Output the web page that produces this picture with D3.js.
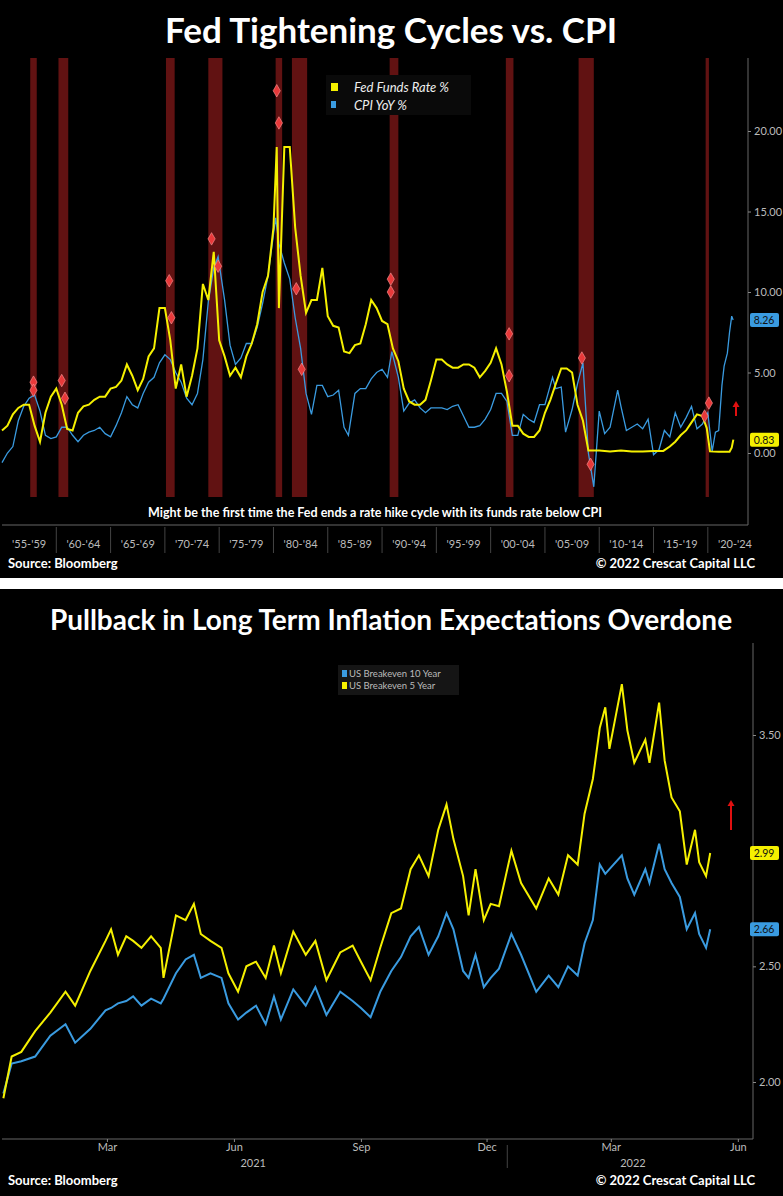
<!DOCTYPE html>
<html><head><meta charset="utf-8">
<script src="https://cdn.jsdelivr.net/npm/d3@7"></script>
<style>body{margin:0;background:#fff}svg{display:block}text{font-family:Lato,"Open Sans",sans-serif}</style>
</head><body><svg id="c" width="783" height="1196"></svg>
<script>
// ---------- Top chart data ----------
const fedYears=[1955,1955.5,1956,1956.5,1957,1957.5,1958,1958.5,1959,1959.5,1960,1960.5,1961,1961.5,1962,1962.5,1963,1963.5,1964,1964.5,1965,1965.5,1966,1966.5,1967,1967.5,1968,1968.5,1969,1969.5,1970,1970.5,1971,1971.5,1972,1972.5,1973,1973.5,1974,1974.5,1975,1975.5,1976,1976.5,1977,1977.5,1978,1978.5,1979,1979.5,1980,1980.3,1980.5,1981,1981.5,1982,1982.5,1983,1983.5,1984,1984.5,1985,1985.5,1986,1986.5,1987,1987.5,1988,1988.5,1989,1989.5,1990,1990.5,1991,1991.5,1992,1992.5,1993,1993.5,1994,1994.5,1995,1995.5,1996,1996.5,1997,1997.5,1998,1998.5,1999,1999.5,2000,2000.5,2001,2001.5,2002,2002.5,2003,2003.5,2004,2004.5,2005,2005.5,2006,2006.5,2007,2007.5,2008,2008.5,2009,2010,2011,2012,2013,2014,2015,2015.9,2016.5,2017,2017.5,2018,2018.5,2019,2019.5,2019.9,2020.2,2021,2022,2022.2,2022.35];
const fedRate=[1.4,1.7,2.4,2.8,3.0,3.0,1.7,0.7,2.5,3.5,4.0,3.0,1.5,1.4,2.5,2.9,3.0,3.3,3.5,3.5,4.0,4.1,4.5,5.5,4.8,3.9,4.6,6.0,6.5,9.0,9.0,7.0,4.0,5.5,3.5,4.8,6.5,10.5,9.5,12.5,7.0,6.0,4.8,5.3,4.7,6.0,6.8,8.0,10.0,11.0,14.0,19.0,9.0,19.0,19.0,14.0,11.0,8.7,9.5,9.5,11.5,8.5,7.9,7.8,6.3,6.2,6.7,6.8,8.0,9.5,9.0,8.2,8.0,6.5,5.7,4.0,3.2,3.0,3.0,3.3,4.5,5.8,5.8,5.5,5.3,5.3,5.5,5.5,5.3,4.7,5.1,5.6,6.5,5.5,3.8,1.7,1.7,1.2,1.0,1.0,1.4,2.5,3.3,4.3,5.25,5.25,5.0,3.0,2.0,0.15,0.15,0.1,0.15,0.1,0.1,0.13,0.13,0.4,0.7,1.1,1.4,1.9,2.4,2.3,1.55,0.1,0.08,0.08,0.33,0.83];
const cpiYears=[1955,1955.5,1956,1956.5,1957,1957.5,1958,1958.5,1959,1959.5,1960,1960.5,1961,1961.5,1962,1962.5,1963,1963.5,1964,1964.5,1965,1965.5,1966,1966.5,1967,1967.5,1968,1968.5,1969,1969.5,1970,1970.5,1971,1971.5,1972,1972.5,1973,1973.5,1974,1974.5,1974.9,1975.5,1976,1976.5,1977,1977.5,1978,1978.5,1979,1979.5,1980.2,1980.5,1981,1981.5,1982,1982.5,1983,1983.5,1984,1984.5,1985,1985.5,1986,1986.5,1986.9,1987.5,1988,1988.5,1989,1989.5,1990,1990.5,1990.9,1991.5,1992,1992.5,1993,1993.5,1994,1994.5,1995,1995.5,1996,1996.5,1997,1997.5,1998,1998.5,1999,1999.5,2000,2000.5,2001,2001.5,2002,2002.5,2003,2003.5,2004,2004.5,2005,2005.7,2006,2006.5,2006.9,2007.5,2008,2008.5,2009,2009.5,2010,2010.5,2011,2011.7,2012,2012.5,2013,2013.5,2014,2014.5,2015,2015.5,2016,2016.5,2017,2017.5,2018,2018.5,2019,2019.5,2020,2020.4,2020.7,2021,2021.3,2021.5,2021.8,2022,2022.2,2022.33];
const cpiYoY=[-0.6,0.0,0.4,2.0,2.9,3.4,3.6,2.6,1.1,0.9,1.0,1.6,1.6,1.1,0.7,1.1,1.3,1.4,1.6,1.2,1.0,1.7,2.5,3.5,3.0,2.8,3.7,4.4,4.7,5.6,6.1,5.8,5.0,4.4,3.4,3.0,3.7,5.8,9.4,11.5,12.2,9.5,6.7,5.5,5.9,6.8,6.8,7.8,9.3,11.0,14.6,13.0,11.8,10.8,8.4,6.5,3.7,2.4,4.2,4.2,3.5,3.6,3.9,1.6,1.1,3.7,4.0,4.0,4.6,5.0,5.2,4.7,6.3,4.7,2.6,3.1,3.3,2.8,2.5,2.8,2.8,2.8,2.7,2.9,3.0,2.3,1.6,1.6,1.7,2.1,2.7,3.7,3.7,3.2,1.1,1.1,2.4,2.1,1.9,3.0,3.0,4.7,4.0,4.1,1.3,2.7,4.3,5.6,0.0,-2.1,2.6,1.2,1.6,3.9,2.9,1.4,1.6,1.8,1.5,2.1,-0.1,0.2,1.4,1.0,2.5,1.6,2.2,2.9,1.5,1.8,2.5,0.1,1.3,1.4,4.2,5.4,6.2,7.5,8.5,8.26];
const cycleBands=[[1957.6,1958.2],[1960.2,1961.1],[1970.1,1970.9],[1974.0,1975.3],[1980.2,1980.8],[1981.7,1983.1],[1990.7,1991.5],[2001.4,2002.1],[2008.1,2009.5],[2019.8,2020.1]];
const markerYears=[1957.9,1957.9,1960.5,1960.8,1970.4,1970.6,1974.3,1974.9,1980.3,1980.5,1982.1,1982.6,1990.8,1990.8,2001.7,2001.7,2008.4,2009.2,2019.7,2020.1];
const markerVals=[4.4,3.9,4.5,3.4,10.7,8.4,13.3,11.6,22.5,20.5,10.2,5.2,10.8,10.0,7.4,4.8,5.9,-0.7,2.3,3.1];
const decadeTicks=[1955,1960,1965,1970,1975,1980,1985,1990,1995,2000,2005,2010,2015,2020];
const topYTicks=[0,5,10,15,20];
// ---------- Bottom chart data ----------
const beDates=["2020-12-16","2020-12-22","2020-12-29","2021-01-08","2021-01-19","2021-01-30","2021-02-06","2021-02-17","2021-02-28","2021-03-04","2021-03-09","2021-03-15","2021-03-20","2021-03-26","2021-04-02","2021-04-09","2021-04-11","2021-04-20","2021-04-27","2021-05-03","2021-05-08","2021-05-15","2021-05-23","2021-05-28","2021-06-04","2021-06-10","2021-06-17","2021-06-24","2021-06-30","2021-07-05","2021-07-14","2021-07-23","2021-07-30","2021-08-07","2021-08-17","2021-08-26","2021-09-01","2021-09-08","2021-09-15","2021-09-23","2021-09-30","2021-10-07","2021-10-13","2021-10-20","2021-10-27","2021-11-02","2021-11-07","2021-11-14","2021-11-18","2021-11-23","2021-11-29","2021-12-04","2021-12-10","2021-12-19","2021-12-26","2022-01-06","2022-01-15","2022-01-22","2022-01-29","2022-02-05","2022-02-10","2022-02-16","2022-02-21","2022-02-25","2022-02-28","2022-03-09","2022-03-13","2022-03-18","2022-03-26","2022-03-29","2022-04-05","2022-04-09","2022-04-14","2022-04-20","2022-04-25","2022-05-01","2022-05-04","2022-05-09","2022-05-12"];
const be5y=[1.93,2.11,2.13,2.22,2.30,2.39,2.33,2.48,2.61,2.66,2.55,2.63,2.61,2.58,2.63,2.58,2.45,2.72,2.70,2.77,2.64,2.61,2.58,2.47,2.39,2.50,2.52,2.45,2.59,2.47,2.65,2.55,2.61,2.44,2.56,2.59,2.52,2.44,2.58,2.73,2.75,2.92,2.98,2.89,3.09,3.20,3.05,2.89,2.72,2.92,2.70,2.77,2.76,3.00,2.86,2.75,2.88,2.81,2.98,2.94,3.16,3.31,3.53,3.62,3.44,3.72,3.52,3.38,3.48,3.38,3.64,3.39,3.23,3.17,2.94,3.09,2.95,2.89,2.99];
const be10y=[1.95,2.08,2.09,2.11,2.20,2.25,2.17,2.23,2.31,2.32,2.34,2.35,2.37,2.33,2.36,2.34,2.36,2.47,2.53,2.55,2.45,2.47,2.45,2.34,2.27,2.30,2.33,2.25,2.37,2.27,2.40,2.33,2.41,2.29,2.39,2.35,2.32,2.28,2.39,2.48,2.54,2.63,2.67,2.55,2.63,2.73,2.66,2.48,2.45,2.55,2.41,2.45,2.49,2.64,2.55,2.39,2.46,2.41,2.50,2.46,2.60,2.70,2.94,2.90,2.92,2.98,2.88,2.81,2.92,2.86,3.03,2.92,2.86,2.80,2.66,2.73,2.64,2.58,2.66];
const monthTicks=["2021-03-01","2021-06-01","2021-09-01","2021-12-01","2022-03-01","2022-06-01"];
const monthNames=["Mar","Jun","Sep","Dec","Mar","Jun"];
const yearLabels=["2021","2022"];
const botYTicks=[2.0,2.5,3.5];

const YEL="#f5f000", BLU="#3a9be0";
const svg=d3.select("#c");
function valBox(g,y,val,col){
  g.append("rect").attr("x",750).attr("y",y-7).attr("width",29).attr("height",14).attr("rx",2).attr("fill",col);
  g.append("text").attr("x",764).attr("y",y+4).attr("text-anchor","middle").attr("fill","#111").attr("font-size",10.5).text(val);
}
function arrow(g,x,y0,yt){
  g.append("line").attr("x1",x).attr("x2",x).attr("y1",y0).attr("y2",yt+4).attr("stroke","#e01010").attr("stroke-width",2);
  g.append("path").attr("d",`M${x-3.5},${yt+6}L${x},${yt}L${x+3.5},${yt+6}Z`).attr("fill","#e01010");
}
function footer(y){
  svg.append("text").attr("x",8).attr("y",y).attr("fill","#fff").attr("font-size",13).attr("font-weight",700).text("Source: Bloomberg");
  svg.append("text").attr("x",755).attr("y",y).attr("text-anchor","end").attr("fill","#fff").attr("font-size",13).attr("font-weight",700).text("© 2022 Crescat Capital LLC");
}
// ---------- TOP PANEL ----------
svg.append("rect").attr("x",0).attr("y",0).attr("width",783).attr("height",578).attr("fill","#000");
svg.append("text").attr("x",391).attr("y",43).attr("text-anchor","middle").attr("fill","#fff").attr("font-size",35).attr("font-weight",700).text("Fed Tightening Cycles vs. CPI");
const x1=d3.scaleLinear().domain([1955,2023.7]).range([2,748]);
const y1=d3.scaleLinear().domain([0,20]).range([453,131]);
const g1=svg.append("g");
g1.selectAll(".band").data(cycleBands).join("rect").attr("x",d=>x1(d[0])).attr("width",d=>Math.max(3,x1(d[1])-x1(d[0]))).attr("y",58).attr("height",439).attr("fill","#6b1414").attr("opacity",0.9);
const line1=d3.line().x(d=>x1(d[0])).y(d=>y1(d[1]));
g1.append("path").datum(cpiYears.map((v,i)=>[v,cpiYoY[i]])).attr("d",line1).attr("fill","none").attr("stroke",BLU).attr("stroke-width",1.3);
g1.append("path").datum(fedYears.map((v,i)=>[v,fedRate[i]])).attr("d",line1).attr("fill","none").attr("stroke",YEL).attr("stroke-width",2);
g1.selectAll(".mk").data(markerYears).join("path").attr("transform",(d,i)=>`translate(${x1(d)},${y1(markerVals[i])})`).attr("d",d3.symbol(d3.symbolDiamond,45)).attr("fill","#e8393a").attr("stroke","#ff9a9a").attr("stroke-width",0.6);
g1.append("line").attr("x1",748).attr("x2",748).attr("y1",58).attr("y2",525).attr("stroke","#666");
g1.append("line").attr("x1",2).attr("x2",748).attr("y1",525).attr("y2",525).attr("stroke","#666");
const ya1=g1.append("g").attr("transform","translate(748,0)").call(d3.axisRight(y1).tickValues(topYTicks).tickFormat(d3.format(".2f")).tickSize(3));
ya1.select(".domain").remove();
ya1.selectAll("line").attr("stroke","#888");
ya1.selectAll("text").attr("fill","#bbb").attr("font-size",11).attr("font-family","Lato");
g1.selectAll(".sep").data(decadeTicks.slice(1)).join("line").attr("x1",d=>x1(d)).attr("x2",d=>x1(d)).attr("y1",527).attr("y2",553).attr("stroke","#444");
g1.selectAll(".dl").data(decadeTicks).join("text").attr("x",d=>x1(d+2.5)).attr("y",548).attr("text-anchor","middle").attr("fill","#bbb").attr("font-size",11).text(d=>"'"+String(d).slice(2)+"-'"+String(d+4).slice(2));
const lg=g1.append("g");
lg.append("rect").attr("x",326).attr("y",75).attr("width",145).attr("height",40).attr("fill","#0a0a0a");
lg.append("rect").attr("x",331).attr("y",83).attr("width",7).attr("height",8).attr("fill",YEL);
lg.append("rect").attr("x",331).attr("y",101).attr("width",5).attr("height",7).attr("fill",BLU);
lg.append("text").attr("x",354).attr("y",92).attr("fill","#eee").attr("font-size",13).attr("font-style","italic").text("Fed Funds Rate %");
lg.append("text").attr("x",354).attr("y",110).attr("fill","#eee").attr("font-size",13).attr("font-style","italic").text("CPI YoY %");
g1.append("text").attr("x",375).attr("y",517).attr("text-anchor","middle").attr("fill","#fff").attr("font-size",12.5).attr("font-weight",700).text("Might be the first time the Fed ends a rate hike cycle with its funds rate below CPI");
valBox(g1,y1(8.26),"8.26",BLU);
valBox(g1,y1(0.83),"0.83",YEL);
arrow(g1,736,416,401);
footer(568);

// ---------- BOTTOM PANEL ----------
svg.append("rect").attr("x",0).attr("y",589).attr("width",783).attr("height",607).attr("fill","#000");
svg.append("text").attr("x",391).attr("y",630).attr("text-anchor","middle").attr("fill","#fff").attr("font-size",28).attr("font-weight",700).text("Pullback in Long Term Inflation Expectations Overdone");
const pd=d3.timeParse("%Y-%m-%d");
const x2=d3.scaleTime().domain([pd("2020-12-15"),pd("2022-06-12")]).range([2,753]);
const y2=d3.scaleLinear().domain([2.0,3.5]).range([1082,735]);
const g2=svg.append("g");
g2.append("line").attr("x1",753).attr("x2",753).attr("y1",643).attr("y2",1139).attr("stroke","#666");
g2.append("line").attr("x1",2).attr("x2",753).attr("y1",1139).attr("y2",1139).attr("stroke","#666");
const line2=d3.line().x(d=>x2(d[0])).y(d=>y2(d[1]));
g2.append("path").datum(beDates.map((d,i)=>[pd(d),be10y[i]])).attr("d",line2).attr("fill","none").attr("stroke",BLU).attr("stroke-width",2);
g2.append("path").datum(beDates.map((d,i)=>[pd(d),be5y[i]])).attr("d",line2).attr("fill","none").attr("stroke",YEL).attr("stroke-width",2);
const ya2=g2.append("g").attr("transform","translate(753,0)").call(d3.axisRight(y2).tickValues(botYTicks).tickFormat(d3.format(".2f")).tickSize(3));
ya2.select(".domain").remove();
ya2.selectAll("line").attr("stroke","#888");
ya2.selectAll("text").attr("fill","#bbb").attr("font-size",11).attr("font-family","Lato");
const xa2=g2.append("g").attr("transform","translate(0,1139)").call(d3.axisBottom(x2).tickValues(monthTicks.map(pd)).tickFormat((d,i)=>monthNames[i]).tickSize(3));
xa2.select(".domain").remove();
xa2.selectAll("line").attr("stroke","#888");
xa2.selectAll("text").attr("fill","#bbb").attr("font-size",11).attr("font-family","Lato").attr("y",4).attr("dy","0.71em");
g2.append("line").attr("x1",x2(pd("2021-12-16"))).attr("x2",x2(pd("2021-12-16"))).attr("y1",1145).attr("y2",1168).attr("stroke","#444");
g2.selectAll(".yl").data(yearLabels).join("text").attr("x",(d,i)=>i===0?x2(pd("2021-06-15")):x2(pd("2022-03-17"))).attr("y",1167).attr("text-anchor","middle").attr("fill","#bbb").attr("font-size",11).text(d=>d);
const lg2=g2.append("g");
lg2.append("rect").attr("x",338).attr("y",665).attr("width",121).attr("height",30).attr("fill","#151515");
lg2.append("rect").attr("x",342).attr("y",670).attr("width",5).attr("height",7).attr("fill",BLU);
lg2.append("rect").attr("x",342).attr("y",682).attr("width",5).attr("height",7).attr("fill",YEL);
lg2.append("text").attr("x",349).attr("y",677).attr("fill","#bbb").attr("font-size",9.5).text("US Breakeven 10 Year");
lg2.append("text").attr("x",349).attr("y",689).attr("fill","#bbb").attr("font-size",9.5).text("US Breakeven 5 Year");
valBox(g2,y2(2.99),"2.99",YEL);
valBox(g2,y2(2.66),"2.66",BLU);
arrow(g2,731,830,800);
footer(1185);
</script></body></html>
